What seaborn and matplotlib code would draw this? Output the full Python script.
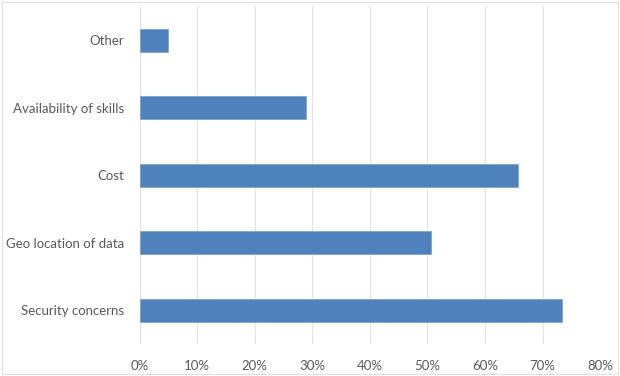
import matplotlib
matplotlib.use("Agg")
import matplotlib.pyplot as plt
import seaborn as sns
import pandas as pd
from matplotlib.ticker import PercentFormatter, MultipleLocator
from matplotlib.patches import Rectangle

categories = ["Other", "Availability of skills", "Cost", "Geo location of data", "Security concerns"]
values = [5.0, 29.0, 65.8, 50.6, 73.4]

df = pd.DataFrame({"category": categories, "value": values})

sns.set_style("white")
plt.rcParams['font.family'] = ['Lato', 'DejaVu Sans']

fig = plt.figure(figsize=(6.2, 3.76), dpi=100)
ax = fig.add_axes([0.225, 0.0857, 0.743, 0.8973])

sns.barplot(data=df, y="category", x="value", order=categories, color="#4F81BD",
            width=0.34, edgecolor="#7fa3d0", linewidth=0.6, ax=ax, saturation=1)

ax.set_xlim(0, 80)
ax.xaxis.set_major_locator(MultipleLocator(10))
ax.xaxis.set_major_formatter(PercentFormatter(decimals=0))
ax.grid(axis="x", color="#e3e3e3", linewidth=0.8)
ax.set_axisbelow(True)
for s in ax.spines.values():
    s.set_visible(False)
ax.set_xlabel("")
ax.set_ylabel("")
ax.tick_params(axis="both", length=0, labelsize=9.5, colors="#595959")
ax.tick_params(axis="y", pad=11)
ax.tick_params(axis="x", pad=12)

fig.patches.append(Rectangle((0.003, 0.005), 0.994, 0.99, transform=fig.transFigure,
                             fill=False, edgecolor="#e0e0e0", linewidth=0.8))

fig.savefig("out.png", dpi=100)
